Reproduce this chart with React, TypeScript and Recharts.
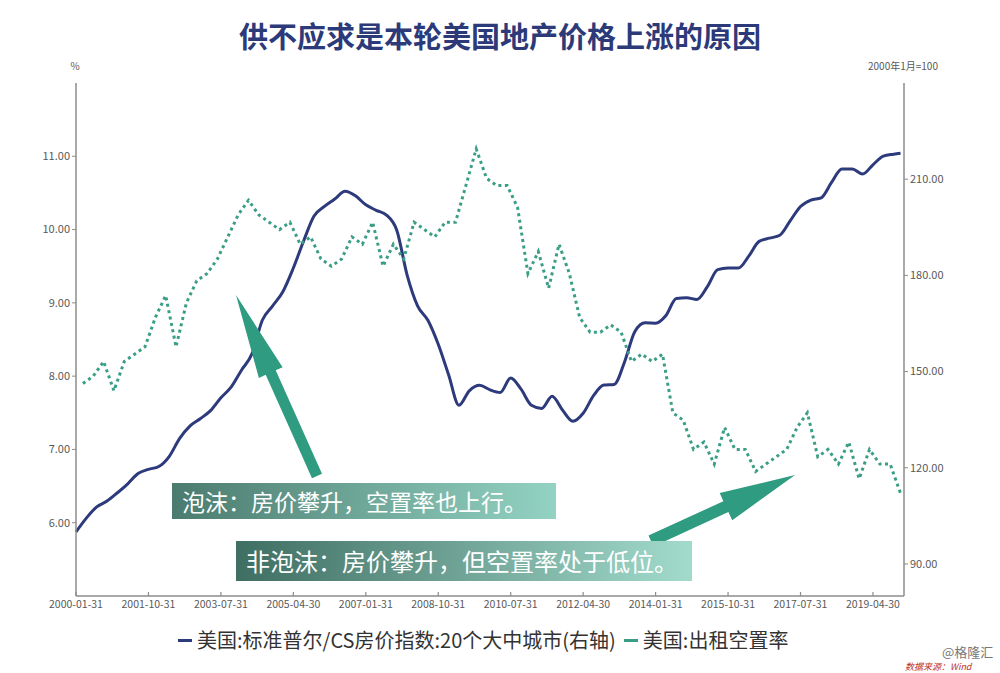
import React from "react";
import { Line, LineChart, XAxis, YAxis } from "recharts";

const FONT = '"Noto Sans CJK SC", "Noto Sans", sans-serif';

const TITLE = "供不应求是本轮美国地产价格上涨的原因";
const HPI_NAME = "美国:标准普尔/CS房价指数:20个大中城市(右轴)";
const VACANCY_NAME = "美国:出租空置率";
const LEFT_UNIT = "%";
const RIGHT_UNIT = "2000年1月=100";

const HPI_COLOR = "#2d3a7c";
const VACANCY_COLOR = "#3a9e86";
const ARROW_COLOR = "#2f9b81";
const AXIS_COLOR = "#8c8c8c";
const TICK_COLOR = "#595959";

// monthly axis, 2000-01 .. 2020-01
const FIRST_YEAR = 2000;
const MONTH_COUNT = 241;

const X_TICKS = [
  "2000-01-31", "2001-10-31", "2003-07-31", "2005-04-30", "2007-01-31", "2008-10-31",
  "2010-07-31", "2012-04-30", "2014-01-31", "2015-10-31", "2017-07-31", "2019-04-30",
];
const LEFT_TICKS = [6, 7, 8, 9, 10, 11];
const RIGHT_TICKS = [90, 120, 150, 180, 210];

// CS 20-city index, read at Jan / Apr / Jul / Oct of each year
const HPI_QUARTERLY = [
  100, 104.3, 107.8, 109.6,
  112.2, 115, 118.2, 119.5,
  120.4, 123.5, 129.1, 133,
  135.3, 137.8, 141.8, 145.2,
  150.5, 155.5, 166, 170.5,
  175, 182.3, 190.8, 198.5,
  201.5, 203.8, 206.2, 204.8,
  202, 200.3, 198.8, 194,
  180, 170.5, 166, 158.5,
  149, 139.5, 144, 145.7,
  144.3, 143.5, 148, 144.5,
  139.5, 138.5, 142.3, 138,
  134.5, 137, 142.5, 145.8,
  146, 153, 162.5, 165.2,
  165.1, 167.5, 172.8, 173,
  172.5, 176.5, 181.8, 182.3,
  182.3, 186, 190.6, 191.6,
  192.5, 197, 201.5, 203.5,
  204.2, 209, 213.2, 213.2,
  211.6, 214.5, 217.2, 217.8,
];
const HPI_LAST = { date: "2019-12-31", value: 218.1 };

// rental vacancy rate, quarter ends (Mar / Jun / Sep / Dec)
const VACANCY = [
  7.9, 8.0, 8.2, 7.8,
  8.2, 8.3, 8.4, 8.8,
  9.1, 8.4, 9.0, 9.3,
  9.4, 9.6, 9.9, 10.2,
  10.4, 10.2, 10.1, 10.0,
  10.1, 9.8, 9.9, 9.6,
  9.5, 9.6, 9.9, 9.8,
  10.1, 9.5, 9.8, 9.6,
  10.1, 10.0, 9.9, 10.1,
  10.1, 10.6, 11.1, 10.7,
  10.6, 10.6, 10.3, 9.4,
  9.7, 9.2, 9.8, 9.4,
  8.8, 8.6, 8.6, 8.7,
  8.6, 8.2, 8.3, 8.2,
  8.3, 7.5, 7.4, 7.0,
  7.1, 6.8, 7.3, 7.0,
  7.0, 6.7, 6.8, 6.9,
  7.0, 7.3, 7.5, 6.9,
  7.0, 6.8, 7.1, 6.6,
  7.0, 6.8, 6.8, 6.4,
];

function monthEnd(index: number) {
  const year = FIRST_YEAR + Math.floor(index / 12);
  const month = index % 12;
  const day = new Date(Date.UTC(year, month + 1, 0)).getUTCDate();
  return `${year}-${String(month + 1).padStart(2, "0")}-${String(day).padStart(2, "0")}`;
}

const chartData = Array.from({ length: MONTH_COUNT }, (_, i) => {
  const date = monthEnd(i);
  let hpi: number | null = i % 3 === 0 ? HPI_QUARTERLY[i / 3] ?? null : null;
  if (date === HPI_LAST.date) hpi = HPI_LAST.value;
  const vacancy = i % 3 === 2 ? VACANCY[(i - 2) / 3] ?? null : null;
  return { date, hpi, vacancy };
});

function DateTick(props: any) {
  const { x, y, payload } = props;
  return (
    <g>
      <line x1={x} x2={x} y1={y - 5} y2={y - 9} stroke={AXIS_COLOR} strokeWidth={1.2} />
      <text x={x} y={y} dy="0.71em" textAnchor="middle" fontSize={10.5} fill={TICK_COLOR} fontFamily={FONT}>
        {payload.value}
      </text>
    </g>
  );
}

function arrowPoints(tail: [number, number], tip: [number, number], shaft: number, headWidth: number, headLength: number) {
  const dx = tip[0] - tail[0];
  const dy = tip[1] - tail[1];
  const len = Math.hypot(dx, dy);
  const ux = dx / len;
  const uy = dy / len;
  const nx = -uy;
  const ny = ux;
  const bx = tip[0] - ux * headLength;
  const by = tip[1] - uy * headLength;
  const pts = [
    [tail[0] + (nx * shaft) / 2, tail[1] + (ny * shaft) / 2],
    [bx + (nx * shaft) / 2, by + (ny * shaft) / 2],
    [bx + (nx * headWidth) / 2, by + (ny * headWidth) / 2],
    tip,
    [bx - (nx * headWidth) / 2, by - (ny * headWidth) / 2],
    [bx - (nx * shaft) / 2, by - (ny * shaft) / 2],
    [tail[0] - (nx * shaft) / 2, tail[1] - (ny * shaft) / 2],
  ];
  return pts.map((p) => `${p[0].toFixed(1)},${p[1].toFixed(1)}`).join(" ");
}

export default function App() {
  return (
    <div
      style={{
        position: "absolute",
        left: 0,
        top: 0,
        width: 1000,
        height: 673,
        background: "#fff",
        fontFamily: FONT,
        overflow: "hidden",
      }}
    >
      <div
        style={{
          position: "absolute",
          top: 19,
          left: 0,
          width: 1000,
          textAlign: "center",
          fontSize: 29,
          lineHeight: "32px",
          fontWeight: 700,
          color: "#2c3a7a",
        }}
      >
        {TITLE}
      </div>

      <div style={{ position: "absolute", top: 58, left: 65, width: 20, textAlign: "center", fontSize: 10, color: TICK_COLOR }}>
        {LEFT_UNIT}
      </div>
      <div style={{ position: "absolute", top: 58, left: 853, width: 100, textAlign: "center", fontSize: 10, color: TICK_COLOR }}>
        {RIGHT_UNIT}
      </div>

      <LineChart width={1000} height={673} data={chartData} margin={{ top: 83, right: 26, bottom: 47, left: 16 }}>
        <XAxis
          dataKey="date"
          scale="point"
          ticks={X_TICKS}
          interval={0}
          tickSize={0}
          tickMargin={5}
          height={30}
          tick={<DateTick />}
          axisLine={{ stroke: AXIS_COLOR, strokeWidth: 1.5 }}
        />
        <YAxis
          yAxisId="left"
          orientation="left"
          width={60}
          domain={[5, 12]}
          ticks={LEFT_TICKS}
          tickFormatter={(v: number) => v.toFixed(2)}
          tick={{ fontSize: 11, fill: TICK_COLOR, fontFamily: FONT }}
          tickSize={4}
          axisLine={{ stroke: AXIS_COLOR, strokeWidth: 1.5 }}
          tickLine={{ stroke: AXIS_COLOR }}
        />
        <YAxis
          yAxisId="right"
          orientation="right"
          width={70}
          domain={[80, 240]}
          ticks={RIGHT_TICKS}
          tickFormatter={(v: number) => v.toFixed(2)}
          tick={{ fontSize: 11, fill: TICK_COLOR, fontFamily: FONT }}
          tickSize={4}
          axisLine={{ stroke: AXIS_COLOR, strokeWidth: 1.5 }}
          tickLine={{ stroke: AXIS_COLOR }}
        />
        <Line
          yAxisId="right"
          dataKey="hpi"
          name={HPI_NAME}
          type="monotone"
          stroke={HPI_COLOR}
          strokeWidth={3}
          dot={false}
          connectNulls
          isAnimationActive={false}
        />
        <Line
          yAxisId="left"
          dataKey="vacancy"
          name={VACANCY_NAME}
          type="linear"
          stroke={VACANCY_COLOR}
          strokeWidth={3}
          strokeDasharray="3 3.5"
          dot={false}
          connectNulls
          isAnimationActive={false}
        />
      </LineChart>

      <svg width={1000} height={673} style={{ position: "absolute", left: 0, top: 0, pointerEvents: "none" }}>
        <polygon points={arrowPoints([317, 476], [236, 295], 11, 26, 85)} fill={ARROW_COLOR} />
        <polygon points={arrowPoints([651, 541], [795, 475], 12, 30, 76)} fill={ARROW_COLOR} />
      </svg>

      <div
        style={{
          position: "absolute",
          left: 172,
          top: 483,
          width: 384,
          height: 36,
          paddingLeft: 10,
          boxSizing: "border-box",
          background: "linear-gradient(to right, #4b7b6f, #93d3c3)",
          color: "#fff",
          fontSize: 23,
          lineHeight: "36px",
          whiteSpace: "nowrap",
        }}
      >
        泡沫：房价攀升，空置率也上行。
      </div>
      <div
        style={{
          position: "absolute",
          left: 236,
          top: 541,
          width: 456,
          height: 40,
          paddingLeft: 10,
          boxSizing: "border-box",
          background: "linear-gradient(to right, #3f6e62, #a2dbcc)",
          color: "#fff",
          fontSize: 24,
          lineHeight: "40px",
          whiteSpace: "nowrap",
        }}
      >
        非泡沫：房价攀升，但空置率处于低位。
      </div>

      <div
        style={{
          position: "absolute",
          top: 627,
          left: 178,
          display: "flex",
          alignItems: "center",
          fontSize: 20,
          lineHeight: "26px",
          color: "#333",
          whiteSpace: "nowrap",
        }}
      >
        <span style={{ display: "inline-block", width: 14, height: 3, background: HPI_COLOR, marginRight: 5 }} />
        <span>{HPI_NAME}</span>
        <span style={{ display: "inline-block", width: 14, height: 3, background: VACANCY_COLOR, marginLeft: 8, marginRight: 5 }} />
        <span>{VACANCY_NAME}</span>
      </div>

      <div style={{ position: "absolute", top: 644, left: 942, fontSize: 13, lineHeight: "16px", color: "#777", whiteSpace: "nowrap" }}>
        @格隆汇
      </div>
      <div
        style={{
          position: "absolute",
          top: 661,
          left: 905,
          fontSize: 9,
          lineHeight: "11px",
          color: "#c0302a",
          fontStyle: "italic",
          whiteSpace: "nowrap",
        }}
      >
        数据来源：Wind
      </div>
    </div>
  );
}
